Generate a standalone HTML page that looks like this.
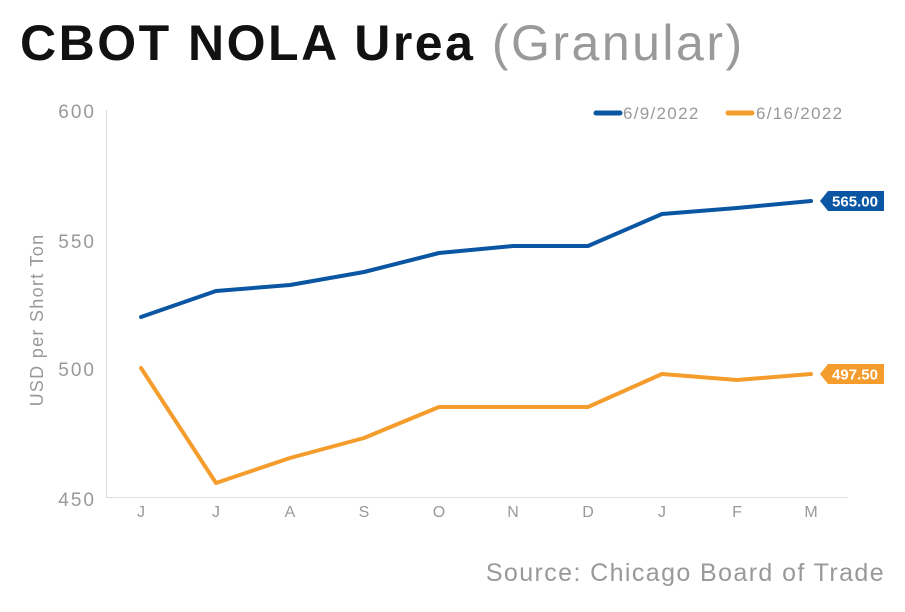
<!DOCTYPE html>
<html><head><meta charset="utf-8"><style>
body{margin:0;background:#fff;width:905px;height:607px;overflow:hidden}
</style></head><body>
<svg width="905" height="607" xmlns="http://www.w3.org/2000/svg" font-family="Liberation Sans, sans-serif">
<text x="20" y="60" font-size="50" font-weight="bold" fill="#111" letter-spacing="2.5">CBOT NOLA Urea <tspan font-weight="normal" fill="#9a9a9a" letter-spacing="2.5">(Granular)</tspan></text>
<line x1="106.5" y1="110" x2="106.5" y2="497.5" stroke="#ddd" stroke-width="1"/>
<line x1="106" y1="497.5" x2="848" y2="497.5" stroke="#ddd" stroke-width="1"/>
<g font-size="19" fill="#999" text-anchor="end" letter-spacing="2">
<text x="96" y="118">600</text><text x="96" y="248">550</text><text x="96" y="376">500</text><text x="96" y="506">450</text>
</g>
<text transform="translate(43,320) rotate(-90)" font-size="18" fill="#999" text-anchor="middle" letter-spacing="1.3">USD per Short Ton</text>
<g font-size="16" fill="#999" text-anchor="middle">
<text x="141" y="517">J</text><text x="216" y="517">J</text><text x="290" y="517">A</text><text x="364" y="517">S</text><text x="439" y="517">O</text><text x="513" y="517">N</text><text x="588" y="517">D</text><text x="662" y="517">J</text><text x="737" y="517">F</text><text x="811" y="517">M</text>
</g>
<polyline fill="none" stroke="#0a56a3" stroke-width="4" stroke-linejoin="round" stroke-linecap="round" points="141,317 216,291 290,285 364,272 439,253 513,246 588,246 662,214 737,208 811,201"/>
<polyline fill="none" stroke="#f59d2c" stroke-width="4" stroke-linejoin="round" stroke-linecap="round" points="141,368 216,483 290,458 364,438 439,407 513,407 588,407 662,374 737,380 811,374"/>
<polygon points="820,201 828,191 884,191 884,211 828,211" fill="#0a56a3"/>
<text x="855" y="206.5" font-size="15" font-weight="bold" fill="#fff" text-anchor="middle">565.00</text>
<polygon points="820,374 828,364 884,364 884,384 828,384" fill="#f59d2c"/>
<text x="855" y="379.5" font-size="15" font-weight="bold" fill="#fff" text-anchor="middle">497.50</text>
<line x1="596" y1="113" x2="620" y2="113" stroke="#0a56a3" stroke-width="5" stroke-linecap="round"/>
<text x="623" y="119" font-size="17" fill="#999" letter-spacing="1.3">6/9/2022</text>
<line x1="728" y1="113" x2="752" y2="113" stroke="#f59d2c" stroke-width="5" stroke-linecap="round"/>
<text x="756" y="119" font-size="17" fill="#999" letter-spacing="1.3">6/16/2022</text>
<text x="885" y="581" font-size="25" fill="#999" text-anchor="end" letter-spacing="1.4">Source: Chicago Board of Trade</text>
</svg>
</body></html>
